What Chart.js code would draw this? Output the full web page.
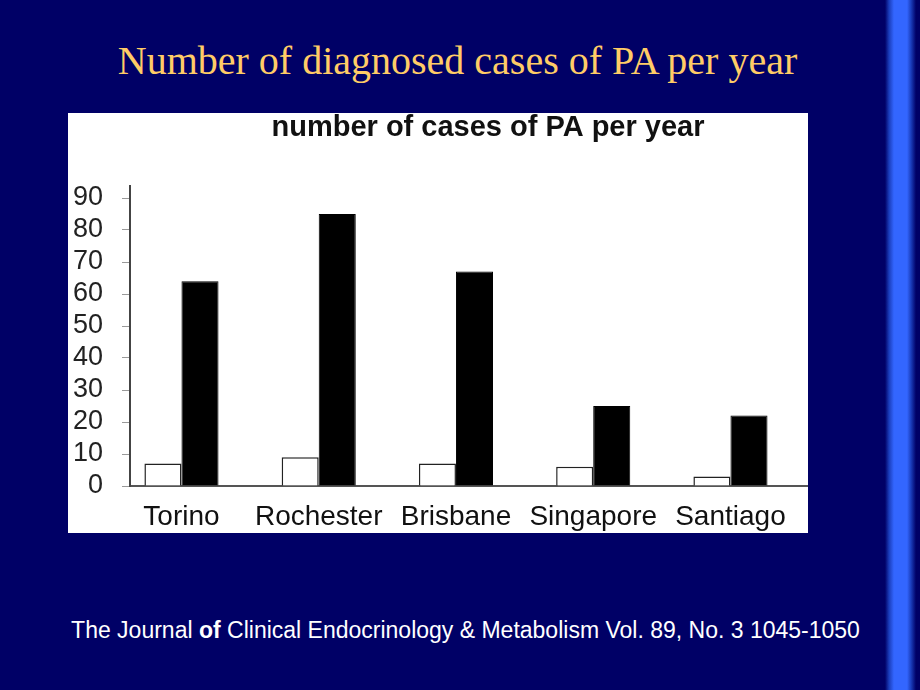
<!DOCTYPE html>
<html>
<head>
<meta charset="utf-8">
<title>Number of diagnosed cases of PA per year</title>
<script src="https://cdn.jsdelivr.net/npm/chart.js@4.4.0/dist/chart.umd.min.js"></script>
<style>
  html, body { margin: 0; padding: 0; }
  body {
    width: 920px;
    height: 690px;
    background: #000066;
    position: relative;
    overflow: hidden;
  }
  #slide-title {
    position: absolute;
    left: 0;
    top: 41px;
    width: 915px;
    text-align: center;
    font: 40px/40px "Liberation Serif", "Times New Roman", serif;
    color: #ffcc66;
    white-space: nowrap;
  }
  #stripe {
    position: absolute;
    left: 885px;
    top: 0;
    width: 35px;
    height: 690px;
    background: linear-gradient(to right,
      #000066 0px, #1a3dbb 4px, #3366ff 9px, #3366ff 22px, #1a3dbb 26px, #000066 31px, #000066 35px);
  }
  #panel {
    position: absolute;
    left: 68px;
    top: 113px;
    width: 740px;
    height: 420px;
    background: #ffffff;
  }
  #source {
    position: absolute;
    left: 0;
    top: 619px;
    width: 931px;
    text-align: center;
    font: 23px/23px "Liberation Sans", Arial, sans-serif;
    color: #ffffff;
    white-space: nowrap;
  }
</style>
</head>
<body>
<div id="slide-title">Number of diagnosed cases of PA per year</div>
<div id="stripe"></div>
<div id="panel"><canvas id="pa-chart" width="740" height="420"></canvas></div>
<div id="source">The Journal <b>of</b> Clinical Endocrinology &amp; Metabolism Vol. 89, No. 3 1045-1050</div>

<script>
// values
const cities = ["Torino", "Rochester", "Brisbane", "Singapore", "Santiago"];
const whiteBars = [7, 9, 7, 6, 3];
const blackBars = [64, 85, 67, 25, 22];

Chart.defaults.font.family = "'Liberation Sans', Arial, sans-serif";

// the chart title sits right of the plot centre on the slide
const titleShift = {
  id: "titleShift",
  afterLayout(chart) {
    const t = chart.titleBlock;
    const dx = 420 - (t.left + t.right) / 2;
    t.left += dx;
    t.right += dx;
  },
};

function toPoints(values) {
  return values.map((v, i) => ({ x: i, y: v }));
}

let paChartData = {
  type: "bar",
  data: {
    datasets: [
      {
        data: toPoints(whiteBars),
        backgroundColor: "#ffffff",
        borderColor: "#222222",
        borderWidth: 1.5,
        categoryPercentage: 0.54,
        barPercentage: 1,
      },
      {
        data: toPoints(blackBars),
        backgroundColor: "#000000",
        borderColor: "#000000",
        borderWidth: 1,
        categoryPercentage: 0.54,
        barPercentage: 1,
      },
    ],
  },
  options: {
    responsive: false,
    animation: false,
    layout: { padding: 0 },
    plugins: {
      legend: { display: false },
      tooltip: { enabled: false },
      title: {
        display: true,
        text: "number of cases of PA per year",
        color: "#111111",
        font: { size: 29, weight: "bold", lineHeight: 1 },
        padding: { top: 0, bottom: 44 },
      },
    },
    scales: {
      x: {
        type: "linear",
        bounds: "data",
        offset: false,
        min: -0.375,
        max: 4.565,
        grid: { display: false, drawTicks: false, offset: false },
        border: { color: "#555555", width: 2 },
        // one tick per city, at the bar-pair centres
        afterBuildTicks: (scale) => {
          scale.ticks = cities.map((c, i) => ({ value: i }));
        },
        ticks: {
          autoSkip: false,
          maxRotation: 0,
          padding: 14,
          color: "#111111",
          font: { size: 28 },
          callback: (v) => cities[v] ?? "",
        },
        afterFit: (scale) => {
          scale.height = 47;
        },
      },
      y: {
        min: 0,
        max: 93.75,
        grid: { drawOnChartArea: false, tickLength: 8, color: "#999999" },
        border: { color: "#444444", width: 2 },
        ticks: {
          stepSize: 10,
          includeBounds: false,
          autoSkip: false,
          padding: 19,
          color: "#222222",
          font: { size: 27 },
        },
        afterFit: (scale) => {
          scale.width = 62;
        },
      },
    },
  },
  plugins: [titleShift],
};

var paChart = new Chart(document.getElementById("pa-chart"), paChartData);
</script>
</body>
</html>
